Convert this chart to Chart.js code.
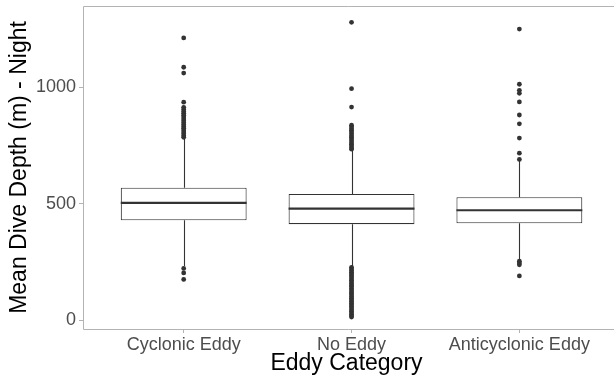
<!DOCTYPE html>
<html>
<head>
<meta charset="utf-8">
<script src="https://cdn.jsdelivr.net/npm/chart.js@4/dist/chart.umd.min.js"></script>
<style>
  html, body { margin: 0; padding: 0; background: #ffffff; }
  #wrap { width: 614px; height: 385px; }
</style>
</head>
<body>
<div id="wrap"><canvas id="c" width="614" height="385"></canvas></div>
<script>
// box stats
const categories = ["Cyclonic Eddy", "No Eddy", "Anticyclonic Eddy"];
const lowerWhisker = [232, 230, 258];
const q1 = [429, 412, 416];
const median = [504, 479, 472];
const q3 = [569, 542, 528];
const upperWhisker = [778, 730, 684];

// outliers per category
const outCyclonic = [1212, 1086, 1061, 936, 914, 905, 896, 888, 880, 872, 864, 856, 848, 840, 832, 824, 816, 808, 800, 792, 785,
  222, 203, 175];
const outNoEddy = [1279, 994, 915, 837, 830, 822, 815, 808, 800, 792, 785, 778, 770, 762, 755, 748, 740, 734,
  227, 220, 213, 206, 199, 192, 185, 178, 171, 164, 157, 150, 143, 136, 129, 122, 115, 108, 101, 94, 87, 80,
  73, 66, 59, 52, 45, 38, 31, 24, 18, 13];
const outAnticyclonic = [1250, 1013, 987, 974, 937, 881, 843, 782, 717, 690,
  253, 245, 238, 190];

const yTicks = [0, 500, 1000];

const outlierPoints = [];
[outCyclonic, outNoEddy, outAnticyclonic].forEach((arr, i) => {
  arr.forEach(v => outlierPoints.push({ x: i + 1, y: v }));
});

const boxData = categories.map((c, i) => ({ x: i + 1, y: [q1[i], q3[i]] }));

// whiskers + medians drawn with the scales
const boxLines = {
  id: "boxLines",
  afterDatasetsDraw(chart) {
    const ctx = chart.ctx;
    const xs = chart.scales.x, ys = chart.scales.y;
    const bars = chart.getDatasetMeta(0).data;
    ctx.save();
    ctx.strokeStyle = "#333333";
    categories.forEach((c, i) => {
      const px = Math.round(xs.getPixelForValue(i + 1)) + 0.5;
      ctx.lineWidth = 1.1;
      ctx.beginPath();
      ctx.moveTo(px, ys.getPixelForValue(q3[i]));
      ctx.lineTo(px, ys.getPixelForValue(upperWhisker[i]));
      ctx.moveTo(px, ys.getPixelForValue(q1[i]));
      ctx.lineTo(px, ys.getPixelForValue(lowerWhisker[i]));
      ctx.stroke();
      const b = bars[i];
      const half = b.width / 2;
      ctx.lineWidth = 2.2;
      ctx.beginPath();
      const my = ys.getPixelForValue(median[i]);
      ctx.moveTo(b.x - half, my);
      ctx.lineTo(b.x + half, my);
      ctx.stroke();
    });
    ctx.restore();
  }
};

// panel runs past the right edge of the image, so no right side
const panelBorder = {
  id: "panelBorder",
  afterDraw(chart) {
    const a = chart.chartArea, ctx = chart.ctx;
    const l = Math.round(a.left) + 0.5, t = Math.round(a.top) + 0.5, b = Math.round(a.bottom) + 0.5;
    ctx.save();
    ctx.strokeStyle = "#b3b3b3";
    ctx.lineWidth = 1;
    ctx.beginPath();
    ctx.moveTo(chart.width, t);
    ctx.lineTo(l, t);
    ctx.lineTo(l, b);
    ctx.lineTo(chart.width, b);
    ctx.stroke();
    ctx.restore();
  }
};

new Chart(document.getElementById("c"), {
  type: "bar",
  data: {
    datasets: [
      {
        type: "bar",
        data: boxData,
        backgroundColor: "#ffffff",
        borderColor: "#333333",
        borderWidth: 1.1,
        borderSkipped: false,
        barPercentage: 0.75,
        categoryPercentage: 1,
        grouped: false,
        order: 2
      },
      {
        type: "scatter",
        data: outlierPoints,
        pointRadius: 2.4,
        pointBackgroundColor: "#333333",
        pointBorderWidth: 0,
        order: 1
      }
    ]
  },
  options: {
    responsive: false,
    animation: false,
    layout: { padding: { top: 6, right: 0, left: 0, bottom: 0 } },
    plugins: { legend: { display: false }, tooltip: { enabled: false } },
    scales: {
      x: {
        type: "linear",
        min: 0.4,
        max: 3.54,
        offset: false,
        afterBuildTicks: s => { s.ticks = [1, 2, 3].map(v => ({ value: v })); },
        afterFit: s => { s.height = 56; s.paddingLeft = 0; s.paddingRight = 0; },
        ticks: {
          callback: v => categories[v - 1],
          color: "#4d4d4d",
          font: { family: "Liberation Sans, Arial, sans-serif", size: 18 },
          padding: 1,
          maxRotation: 0,
          autoSkip: false
        },
        grid: { drawOnChartArea: false, offset: false, color: "#b3b3b3", tickLength: 4 },
        border: { display: false },
        title: {
          display: true,
          text: "Eddy Category",
          color: "#000000",
          font: { family: "Liberation Sans, Arial, sans-serif", size: 23 },
          padding: { top: 0, bottom: 8 }
        }
      },
      y: {
        min: -38,
        max: 1349,
        afterBuildTicks: s => { s.ticks = yTicks.map(v => ({ value: v })); },
        afterFit: s => { s.width = 83; s.paddingTop = 0; s.paddingBottom = 0; },
        ticks: {
          callback: v => String(v),
          color: "#4d4d4d",
          font: { family: "Liberation Sans, Arial, sans-serif", size: 18 },
          padding: 3
        },
        grid: { drawOnChartArea: false, color: "#b3b3b3", tickLength: 4 },
        border: { display: false },
        title: {
          display: true,
          text: "Mean Dive Depth (m) - Night",
          color: "#000000",
          font: { family: "Liberation Sans, Arial, sans-serif", size: 23 },
          padding: { top: 6, bottom: 0 }
        }
      }
    }
  },
  plugins: [boxLines, panelBorder]
});
</script>
</body>
</html>
